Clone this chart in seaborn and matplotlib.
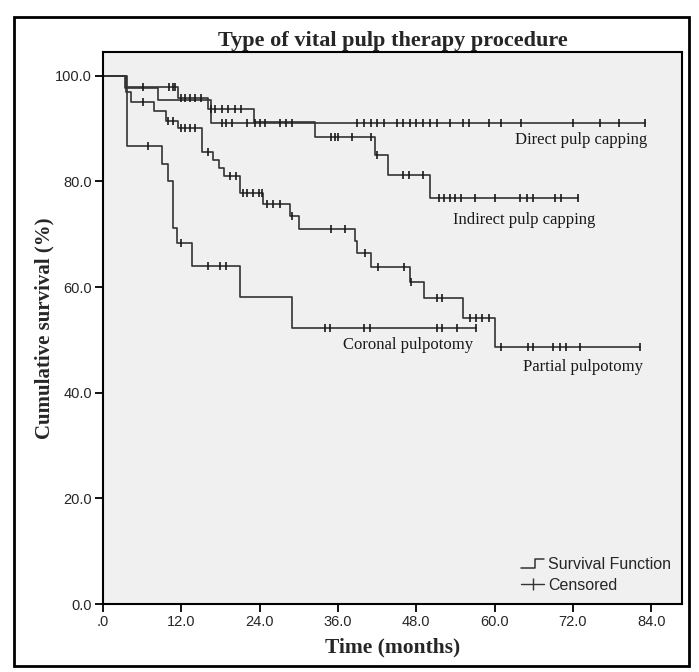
import numpy as np
import pandas as pd
import matplotlib.pyplot as plt
import seaborn as sns
from matplotlib.legend_handler import HandlerBase
from matplotlib.lines import Line2D
from matplotlib.patches import Rectangle

# Kaplan-Meier step data (time in months, survival in %)
groups = ['Direct pulp capping', 'Indirect pulp capping', 'Partial pulpotomy', 'Coronal pulpotomy']

direct_t = [0, 3.3, 8.4, 16.6]
direct_s = [100, 97.7, 95.5, 91.0]
direct_cens = [18.2, 18.9, 19.7, 22.0, 23.3, 24.0, 24.8, 27.1, 28.0, 29.0, 38.9, 40.0, 41.0, 42.0,
               43.0, 45.0, 46.0, 47.0, 48.0, 49.0, 50.1, 51.1, 53.1, 55.1, 56.1, 59.2, 61.0, 64.0,
               72.0, 76.1, 79.0, 83.1]

indirect_t = [0, 3.6, 11.5, 16.1, 23.1, 32.5, 41.6, 43.6, 50.1]
indirect_s = [100, 97.9, 95.8, 93.7, 91.3, 88.4, 85.0, 81.3, 76.8]
indirect_cens = [6.1, 10.1, 10.8, 11.1, 12.0, 12.6, 13.3, 14.1, 15.0, 16.6, 17.1, 18.2, 19.2,
                 20.2, 21.2, 35.0, 35.5, 36.0, 38.1, 41.1, 41.9, 46.0, 46.9, 49.0, 51.5, 52.3,
                 53.1, 53.9, 54.9, 57.0, 60.0, 63.9, 64.9, 65.9, 69.2, 70.2, 72.8]

partial_t = [0, 3.5, 4.3, 7.8, 9.6, 11.5, 15.1, 16.8, 17.7, 18.5, 21.0, 24.5, 28.6, 30.1,
             38.6, 38.9, 41.0, 47.0, 49.1, 55.2, 60.0]
partial_s = [100, 97.0, 95.1, 93.4, 91.5, 90.2, 85.5, 84.0, 82.6, 81.0, 77.8, 75.8, 73.5, 71.0,
             68.8, 66.5, 63.8, 60.9, 57.9, 54.1, 48.7]
partial_cens = [6.1, 10.0, 10.8, 11.9, 12.6, 13.3, 14.1, 16.1, 19.5, 20.3, 21.5, 22.0, 23.0,
                23.9, 24.3, 25.1, 26.0, 27.1, 29.0, 35.0, 37.1, 40.1, 42.1, 46.1, 47.2, 51.1,
                52.0, 56.2, 57.2, 58.1, 59.2, 61.0, 65.1, 65.9, 68.9, 70.0, 71.0, 73.0, 82.2]

coronal_t = [0, 3.7, 9.0, 10.0, 10.8, 11.3, 13.6, 21.0, 29.0]
coronal_s = [100, 86.7, 83.3, 80.0, 71.2, 68.3, 64.0, 58.2, 52.3]
coronal_cens = [6.9, 12.0, 16.1, 18.0, 18.9, 34.0, 34.8, 40.0, 40.9, 51.1, 52.0, 54.2, 57.1]

curves = {
    'Direct pulp capping': (direct_t, direct_s, direct_cens),
    'Indirect pulp capping': (indirect_t, indirect_s, indirect_cens),
    'Partial pulpotomy': (partial_t, partial_s, partial_cens),
    'Coronal pulpotomy': (coronal_t, coronal_s, coronal_cens),
}

# curve labels (month, survival %)
label_pos = {
    'Direct pulp capping': (73.3, 87.9),
    'Indirect pulp capping': (64.5, 72.7),
    'Coronal pulpotomy': (46.8, 49.1),
    'Partial pulpotomy': (73.5, 44.9),
}

x_ticks = [0, 12, 24, 36, 48, 60, 72, 84]
x_ticklabels = ['.0', '12.0', '24.0', '36.0', '48.0', '60.0', '72.0', '84.0']
y_ticks = [0, 20, 40, 60, 80, 100]
y_ticklabels = ['0.0', '20.0', '40.0', '60.0', '80.0', '100.0']

line_col = '#333333'
serif = ['Liberation Serif', 'DejaVu Serif']

sns.set_style('ticks', {'axes.facecolor': '#f0f0f0', 'axes.edgecolor': 'black'})
plt.rcParams['font.family'] = ['Liberation Sans', 'DejaVu Sans']

fig = plt.figure(figsize=(6.99, 6.72), dpi=100)
ax = fig.add_axes([103 / 699, 68 / 672, 579 / 699, 552 / 672])

for name in groups:
    t, s, cens = curves[name]
    end = max(max(t), max(cens))
    df = pd.DataFrame({'t': t + [end], 's': s + [s[-1]]})
    sns.lineplot(data=df, x='t', y='s', drawstyle='steps-post', estimator=None, sort=False,
                 color=line_col, linewidth=1.2, ax=ax)
    idx = np.searchsorted(t, cens, side='right') - 1
    cdf = pd.DataFrame({'t': cens, 's': np.array(s)[idx]})
    sns.scatterplot(data=cdf, x='t', y='s', marker='|', s=30, color='#1a1a1a',
                    linewidth=1.2, ax=ax, zorder=3)
    lx, ly = label_pos[name]
    ax.text(lx, ly, name, ha='center', va='center', fontsize=12, family=serif, color='#1a1a1a')

ax.set_xlim(0, 88.7)
ax.set_ylim(0, 104.5)
ax.set_xticks(x_ticks)
ax.set_xticklabels(x_ticklabels)
ax.set_yticks(y_ticks)
ax.set_yticklabels(y_ticklabels)
ax.tick_params(axis='both', length=6, width=1.3, labelsize=10.5, color='black', pad=2)
for sp in ax.spines.values():
    sp.set_linewidth(1.5)
ax.set_xlabel('Time (months)', fontsize=15.5, fontweight='bold', family=serif, labelpad=6)
ax.set_ylabel('Cumulative survival (%)', fontsize=15, fontweight='bold', family=serif, labelpad=0.5)
ax.set_title('Type of vital pulp therapy procedure', fontsize=16, fontweight='bold',
             family=serif, pad=4)


class StepHandler(HandlerBase):
    def create_artists(self, legend, orig_handle, xdescent, ydescent, width, height, fontsize, trans):
        xs = np.array([0, 0.6, 0.6, 1.0]) * width - xdescent
        ys = np.array([0.15, 0.15, 0.9, 0.9]) * height - ydescent
        ln = Line2D(xs, ys, color=line_col, linewidth=1.1, transform=trans)
        return [ln]


surv_handle = Line2D([], [], color=line_col)
cens_handle = Line2D([], [], color=line_col, linewidth=1.0, marker='|', markersize=9)
ax.legend([surv_handle, cens_handle], ['Survival Function', 'Censored'],
          handler_map={surv_handle: StepHandler()}, loc='lower right', frameon=False,
          fontsize=11.5, handlelength=1.4, handletextpad=0.25, borderaxespad=0.3,
          labelspacing=0.35)

# outer frame around whole chart
fig.patches.append(Rectangle((14 / 699, 6 / 672), 675 / 699, 649 / 672, transform=fig.transFigure,
                             fill=False, edgecolor='black', linewidth=2))

fig.savefig('out.png', dpi=100)
